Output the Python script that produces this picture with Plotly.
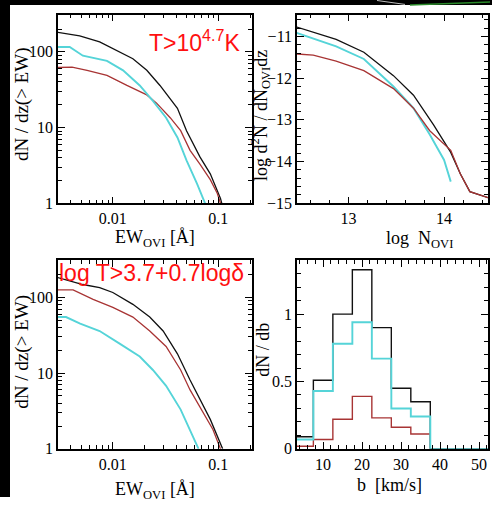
import plotly.graph_objects as go

W, H = 492, 506

# ---------------- data ----------------
# Panel 1 (T > 10^4.7 K): cumulative dN/dz(>EW) vs EW_OVI [A]
p1_black_x = [0.0029, 0.00485, 0.0075, 0.01, 0.0155, 0.021, 0.028, 0.041, 0.050, 0.067, 0.084, 0.105, 0.108]
p1_black_y = [182, 162, 135, 110, 81, 57, 36, 18, 9.1, 4.1, 2.45, 1.16, 1.0]
p1_cyan_x = [0.0029, 0.0039, 0.0052, 0.0088, 0.0125, 0.018, 0.024, 0.032, 0.041, 0.050, 0.063, 0.072, 0.075]
p1_cyan_y = [116, 116, 89, 76, 57, 36, 22.5, 13.5, 7.4, 3.7, 1.8, 1.13, 1.0]
p1_red_x = [0.0029, 0.0041, 0.0057, 0.0088, 0.0136, 0.021, 0.026, 0.035, 0.044, 0.054, 0.067, 0.084, 0.098, 0.105]
p1_red_y = [62, 63, 57, 49, 36, 27, 21, 13.5, 9.1, 5.0, 3.3, 2.05, 1.35, 1.0]

# Panel 2: log d2N/dN dz vs log N_OVI
p2_black_x = [12.45, 12.87, 13.16, 13.47, 13.68, 13.89, 14.07, 14.17, 14.27, 14.48]
p2_black_y = [-10.77, -11.07, -11.38, -11.94, -12.41, -13.12, -13.78, -14.29, -14.72, -14.88]
p2_cyan_x = [12.45, 12.87, 13.16, 13.47, 13.68, 13.85, 14.00, 14.07]
p2_cyan_y = [-10.91, -11.24, -11.54, -12.20, -12.72, -13.35, -13.96, -14.48]
p2_red_x = [12.45, 12.63, 12.87, 13.16, 13.47, 13.68, 13.85, 14.07, 14.17, 14.27, 14.48]
p2_red_y = [-11.42, -11.45, -11.59, -11.82, -12.25, -12.72, -13.26, -13.73, -14.29, -14.72, -14.88]

# Panel 3 (log T > 3.7 + 0.7 log delta): cumulative dN/dz(>EW)
p3_black_x = [0.0029, 0.0052, 0.0075, 0.01, 0.0155, 0.0224, 0.030, 0.041, 0.054, 0.067, 0.084, 0.11]
p3_black_y = [185, 148, 135, 116, 81, 55, 36, 18, 8.1, 4.5, 2.45, 1.0]
p3_red_x = [0.0029, 0.0042, 0.0065, 0.01, 0.0155, 0.0224, 0.032, 0.044, 0.054, 0.072, 0.089, 0.105]
p3_red_y = [126, 126, 94, 74, 55, 36, 22.5, 11, 6.0, 3.0, 1.8, 1.0]
p3_cyan_x = [0.0029, 0.0036, 0.0049, 0.0075, 0.0116, 0.018, 0.024, 0.032, 0.044, 0.054, 0.065]
p3_cyan_y = [55, 55, 45, 36, 24.5, 16.6, 11, 6.8, 3.3, 1.8, 1.0]

# Panel 4: dN/db histogram, bins of 5 km/s
b_edges = [2.5, 7.5, 12.5, 17.5, 22.5, 27.5, 32.5, 37.5, 42.5, 47.5, 52.5]
h_black = [0.09, 0.51, 1.00, 1.33, 0.90, 0.45, 0.35, 0.0, 0.0, 0.0]
h_cyan = [0.07, 0.43, 0.78, 0.94, 0.67, 0.30, 0.24, 0.0, 0.0, 0.0]
h_red = [0.02, 0.07, 0.22, 0.39, 0.23, 0.16, 0.11, 0.0, 0.0, 0.0]

BLACK = "#111111"
CYAN = "#55d4d8"
RED = "#a83434"

# ---------------- figure ----------------
def fx(x):
    return x / W

def fy(y):
    return 1 - y / H

fig = go.Figure()

def add(x, y, color, xa, ya, width=1.3, shape="linear"):
    fig.add_trace(go.Scatter(x=x, y=y, mode="lines", line=dict(color=color, width=width, shape=shape),
                             xaxis=xa, yaxis=ya, showlegend=False, hoverinfo="skip"))

add(p1_black_x, p1_black_y, BLACK, "x", "y")
add(p1_red_x, p1_red_y, RED, "x", "y")
add(p1_cyan_x, p1_cyan_y, CYAN, "x", "y", width=1.9)

add(p2_black_x, p2_black_y, BLACK, "x2", "y2")
add(p2_cyan_x, p2_cyan_y, CYAN, "x2", "y2", width=1.9)
add(p2_red_x, p2_red_y, RED, "x2", "y2")

add(p3_black_x, p3_black_y, BLACK, "x3", "y3")
add(p3_red_x, p3_red_y, RED, "x3", "y3")
add(p3_cyan_x, p3_cyan_y, CYAN, "x3", "y3", width=1.9)

add(b_edges, h_black + [h_black[-1]], BLACK, "x4", "y4", width=1.4, shape="hv")
add(b_edges, h_red + [h_red[-1]], RED, "x4", "y4", width=1.4, shape="hv")
add(b_edges, h_cyan + [h_cyan[-1]], CYAN, "x4", "y4", width=1.9, shape="hv")

TICKFONT = dict(family="Liberation Serif", size=16, color="black")

def axis(**kw):
    d = dict(showline=True, linecolor="black", linewidth=1.5, mirror="allticks",
             ticks="inside", ticklen=7, tickwidth=1.2, tickcolor="black",
             showgrid=False, zeroline=False, tickfont=TICKFONT, fixedrange=True,
             minor=dict(ticks="inside", ticklen=4, tickwidth=1, tickcolor="black", showgrid=False))
    minor = kw.pop("minor", None)
    if minor:
        d["minor"].update(minor)
    d.update(kw)
    return d

x_log_minor = [0.003, 0.004, 0.005, 0.006, 0.007, 0.008, 0.009,
               0.02, 0.03, 0.04, 0.05, 0.06, 0.07, 0.08, 0.09, 0.2]
y_log_minor = [2, 3, 4, 5, 6, 7, 8, 9, 20, 30, 40, 50, 60, 70, 80, 90, 200, 300]

dom_lx = [fx(58), fx(252)]
dom_rx = [fx(297), fx(488)]
dom_ty = [fy(207), fy(15)]
dom_by = [fy(457), fy(265)]

fig.update_layout(
    width=W, height=H, margin=dict(l=0, r=0, t=0, b=0),
    paper_bgcolor="white", plot_bgcolor="white",
    xaxis=axis(domain=dom_lx, anchor="y", type="log", range=[-2.52, -0.68],
               tickmode="array", tickvals=[0.01, 0.1], ticktext=["0.01", "0.1"],
               minor=dict(tickmode="array", tickvals=x_log_minor)),
    yaxis=axis(domain=dom_ty, anchor="x", type="log", range=[0, 2.49],
               tickmode="array", tickvals=[1, 10, 100], ticktext=["1", "10", "100"],
               minor=dict(tickmode="array", tickvals=y_log_minor)),
    xaxis2=axis(domain=dom_rx, anchor="y2", range=[12.46, 14.46], tick0=13, dtick=1,
                minor=dict(dtick=0.2)),
    yaxis2=axis(domain=dom_ty, anchor="x2", range=[-15, -10.48], tick0=-15, dtick=1,
                minor=dict(dtick=0.2)),
    xaxis3=axis(domain=dom_lx, anchor="y3", type="log", range=[-2.52, -0.68],
                tickmode="array", tickvals=[0.01, 0.1], ticktext=["0.01", "0.1"],
                minor=dict(tickmode="array", tickvals=x_log_minor)),
    yaxis3=axis(domain=dom_by, anchor="x3", type="log", range=[0, 2.49],
                tickmode="array", tickvals=[1, 10, 100], ticktext=["1", "10", "100"],
                minor=dict(tickmode="array", tickvals=y_log_minor)),
    xaxis4=axis(domain=dom_rx, anchor="y4", range=[3.3, 52.3], tick0=0, dtick=10,
                minor=dict(dtick=2)),
    yaxis4=axis(domain=dom_by, anchor="x4", range=[0, 1.4], tickmode="array",
                tickvals=[0, 0.5, 1], ticktext=["0", "0.5", "1"], minor=dict(dtick=0.1)),
)

SERIF = "Liberation Serif"

def label(text, x, y, size=18, angle=0, color="black", family=SERIF, xanchor="center"):
    fig.add_annotation(text=text, x=fx(x), y=fy(y), xref="paper", yref="paper",
                       showarrow=False, textangle=angle, xanchor=xanchor, yanchor="middle",
                       font=dict(family=family, size=size, color=color))

label("EW<sub>OVI</sub> [Å]", 155, 243)
label("EW<sub>OVI</sub> [Å]", 155, 499)
label("log  N<sub>OVI</sub>", 419, 244)
label("b  [km/s]", 389, 494)
label("dN / dz(> EW)", 22, 106, size=19, angle=-90)
label("dN / dz(> EW)", 22, 358, size=19, angle=-90)
label("log d<sup>2</sup>N / dN<sub>OVI</sub>dz", 261, 118, size=18, angle=-90)
label("dN / db", 263, 356, size=18, angle=-90)

label("T>10<sup>4.7</sup>K", 147, 42, size=23, color="#ff1010", family="Liberation Sans", xanchor="left")
label("log T>3.7+0.7logδ", 57, 278, size=23, color="#ff1010", family="Liberation Sans", xanchor="left")

# black frame strips of the original image
fig.add_shape(type="rect", xref="paper", yref="paper", x0=0, x1=fx(10), y0=0, y1=1,
              fillcolor="black", line=dict(width=0), layer="above")
fig.add_shape(type="rect", xref="paper", yref="paper", x0=0, x1=1, y0=fy(5), y1=1,
              fillcolor="black", line=dict(width=0), layer="above")
fig.add_shape(type="line", xref="paper", yref="paper", x0=fx(377), y0=fy(0.5), x1=fx(405), y1=fy(4.5),
              line=dict(color="#bbbbbb", width=1), layer="above")
fig.add_shape(type="line", xref="paper", yref="paper", x0=fx(410), y0=fy(5), x1=fx(490), y1=fy(2),
              line=dict(color="#2a8a2a", width=1.5), layer="above")

fig.write_html("out.html")
